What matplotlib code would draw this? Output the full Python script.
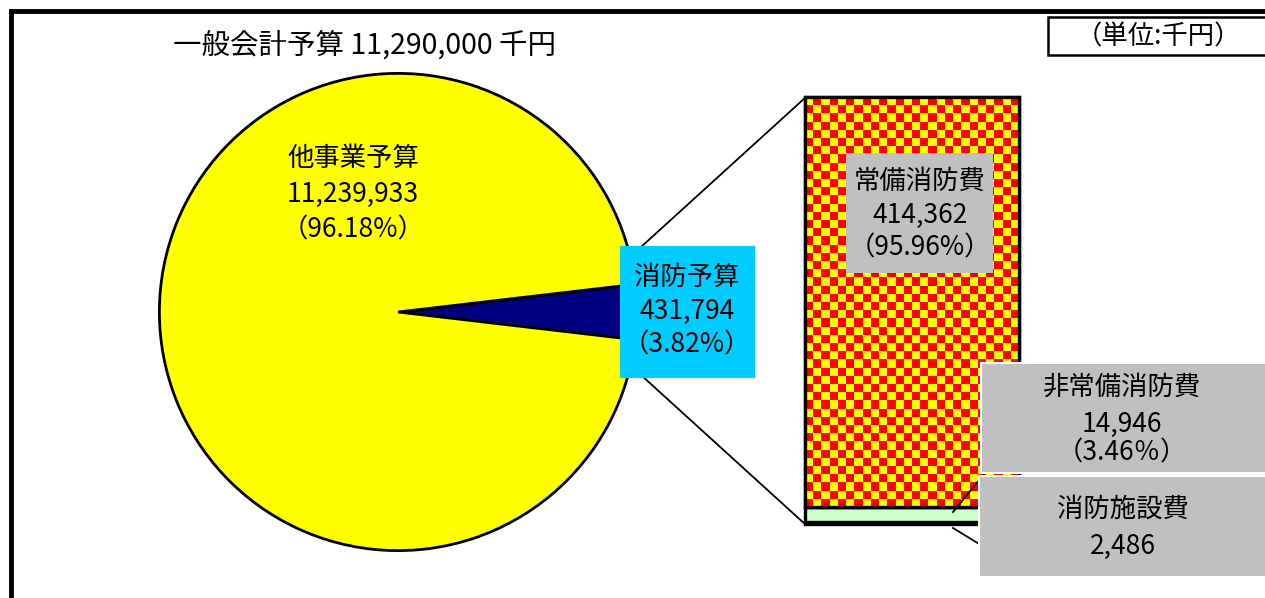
import matplotlib

matplotlib.use("Agg")
import matplotlib.pyplot as plt
import numpy as np
from matplotlib.patches import Rectangle

plt.rcParams["font.family"] = ["Noto Sans CJK JP", "DejaVu Sans"]

# 一般会計の内訳 (千円)
general_total = 11290000
pie_names = ["消防予算", "他事業予算"]
pie_values = [431794, 11239933]

# 消防予算の内訳 (千円)、棒グラフは下から積み上げ
bar_names = ["消防施設費", "非常備消防費", "常備消防費"]
bar_values = [2486, 14946, 414362]

W, H = 1265, 598
fig = plt.figure(figsize=(W / 100, H / 100), dpi=100)


def px_axes(x0, y0, x1, y1, **kw):
    """Axes placed by pixel box (origin top-left)."""
    return fig.add_axes([x0 / W, 1 - y1 / H, (x1 - x0) / W, (y1 - y0) / H], **kw)


# --- pie -------------------------------------------------------------
ax_pie = px_axes(157, 71, 639, 553)
fire_angle = 360.0 * pie_values[0] / sum(pie_values)
ax_pie.pie(
    pie_values,
    colors=["#000080", "#FFFF00"],
    startangle=-fire_angle / 2,
    wedgeprops=dict(edgecolor="black", linewidth=2.0),
)
ax_pie.set_xlim(-1.01, 1.01)
ax_pie.set_ylim(-1.01, 1.01)

# --- stacked bar -----------------------------------------------------
ax_bar = px_axes(805, 97, 1019, 524)
bar_total = sum(bar_values)
bottom = 0
bar_patches = []
for name, value, color in zip(bar_names, bar_values, ["black", "#CCFFCC", "#FFFF00"]):
    rect = ax_bar.bar(0, value, width=1.0, bottom=bottom, color=color,
                      edgecolor="black", linewidth=2.4, zorder=2,
                      clip_on=False)[0]
    bar_patches.append(rect)
    bottom += value
ax_bar.set_xlim(-0.5, 0.5)
ax_bar.set_ylim(0, bar_total)
ax_bar.axis("off")

# checkerboard fill for 常備消防費
top_rect = bar_patches[2]
y0 = top_rect.get_y()
y1 = y0 + top_rect.get_height()
n_cols = 26
n_rows = int(round(428 * (y1 - y0) / bar_total / (214 / n_cols)))
checker = (np.add.outer(np.arange(n_rows), np.arange(n_cols)) % 2).astype(float)
im = ax_bar.imshow(
    checker,
    cmap=matplotlib.colors.ListedColormap(["#FFFF00", "#FF0000"]),
    extent=(-0.5, 0.5, y0, y1),
    origin="upper",
    aspect="auto",
    interpolation="nearest",
    zorder=2.5,
)
im.set_clip_path(top_rect)
ax_bar.add_patch(Rectangle((-0.5, y0), 1.0, y1 - y0, fill=False,
                           edgecolor="black", linewidth=2.4, zorder=3,
                           clip_on=False))

# --- overlay: frame, series lines, labels -----------------------------
ov = fig.add_axes([0, 0, 1, 1], zorder=5)
ov.set_xlim(0, W)
ov.set_ylim(H, 0)
ov.axis("off")
ov.patch.set_visible(False)

# outer frame
ov.plot([11, 11, W + 10], [H + 10, 11, 11], color="black", lw=3.5,
        solid_joinstyle="miter")

# series lines pie -> bar (ends hidden under the 消防予算 box)
ov.plot([630, 806], [257, 97], color="black", lw=1.3, zorder=1)
ov.plot([630, 806], [365, 525], color="black", lw=1.3, zorder=1)

fs = 19
# title and unit box
ov.text(173, 46, f"一般会計予算 {general_total:,} 千円", fontsize=20.5,
        ha="left", va="center")
ov.add_patch(Rectangle((1048, 17), 230, 38, facecolor="white",
                       edgecolor="black", lw=1.8))
ov.text(1158, 37, "（単位:千円）", fontsize=fs, ha="center", va="center")

fire_pct = 100.0 * pie_values[0] / general_total
other_pct = 100.0 - round(fire_pct, 2)

# 他事業予算
for txt, y in zip([pie_names[1], f"{pie_values[1]:,}", f"（{other_pct:.2f}%）"],
                  [158, 194, 230]):
    ov.text(353, y, txt, fontsize=fs, ha="center", va="center")

# 消防予算 (cyan box)
ov.add_patch(Rectangle((620, 246), 135, 132, facecolor="#00CCFF",
                       edgecolor="none", zorder=2))
for txt, y in zip([pie_names[0], f"{pie_values[0]:,}", f"（{fire_pct:.2f}%）"],
                  [277, 311, 345]):
    ov.text(687, y, txt, fontsize=fs, ha="center", va="center", zorder=3)

bar_pct = [100.0 * v / bar_total for v in bar_values]

# 常備消防費
ov.add_patch(Rectangle((846, 153), 147, 120, facecolor="#C0C0C0",
                       edgecolor="none", zorder=2))
for txt, y in zip([bar_names[2], f"{bar_values[2]:,}", f"（{bar_pct[2]:.2f}%）"],
                  [181, 215, 248]):
    ov.text(920, y, txt, fontsize=fs, ha="center", va="center", zorder=3)

# leader lines for the small segments
ov.plot([953, 994], [512, 462], color="black", lw=1.3, zorder=1)
ov.plot([953, 989], [528, 550], color="black", lw=1.3, zorder=1)

# 非常備消防費
ov.add_patch(Rectangle((981, 363), 300, 110, facecolor="#C0C0C0",
                       edgecolor="white", lw=1.5, zorder=2))
for txt, y in zip([bar_names[1], f"{bar_values[1]:,}", f"（{bar_pct[1]:.2f}％）"],
                  [387, 424, 453]):
    ov.text(1122, y, txt, fontsize=fs, ha="center", va="center", zorder=3)

# 消防施設費
ov.add_patch(Rectangle((979, 476), 300, 101, facecolor="#C0C0C0",
                       edgecolor="white", lw=1.5, zorder=2))
for txt, y in zip([bar_names[0], f"{bar_values[0]:,}"], [509, 546]):
    ov.text(1123, y, txt, fontsize=fs, ha="center", va="center", zorder=3)

fig.savefig("out.png", dpi=100)
